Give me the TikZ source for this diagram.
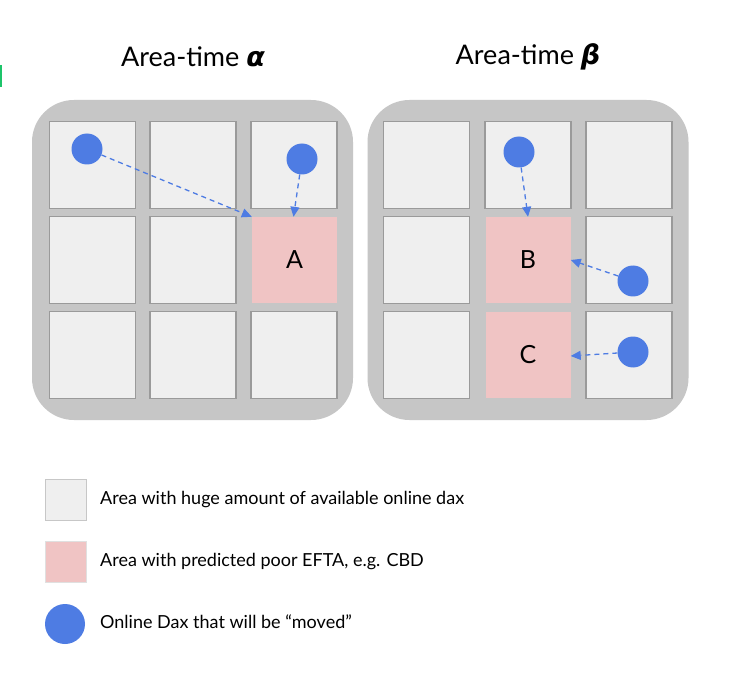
\documentclass[tikz,border=0pt]{standalone}
\usepackage{fontspec}
\setmainfont{Lato}
\newfontfamily\grk{DejaVu Sans}
\usetikzlibrary{arrows.meta}
\definecolor{panelgray}{HTML}{C6C6C6}
\definecolor{cellfill}{HTML}{EFEFEF}
\definecolor{celldraw}{HTML}{9A9A9A}
\definecolor{pinkfill}{HTML}{F0C4C4}
\definecolor{dotblue}{HTML}{4E7CE3}
\definecolor{markgreen}{HTML}{1DC46A}
\tikzset{
  panelbox/.style={fill=panelgray, rounded corners=42pt, minimum width=321pt, minimum height=320pt, inner sep=0pt},
  cellbox/.style={fill=cellfill, draw=celldraw, line width=1.4pt, minimum width=86pt, minimum height=87pt, inner sep=0pt},
  pinkbox/.style={fill=pinkfill, minimum width=85pt, minimum height=86pt, inner sep=0pt, font=\fontsize{25}{28}\selectfont},
  dot/.style={circle, fill=dotblue, minimum size=31pt, inner sep=0pt},
  move/.style={dotblue, dashed, dash pattern=on 5pt off 4pt, line width=1.3pt, -{Triangle[length=10pt,width=9pt]}},
  title/.style={font=\fontsize{27}{32}\selectfont},
  legtext/.style={anchor=west, font=\fontsize{18}{22}\selectfont, inner sep=0pt},
  legsq/.style={minimum size=41pt, inner sep=0pt, draw=black!22, line width=1.4pt}
}
\begin{document}
\begin{tikzpicture}[x=1pt,y=-1pt]
\useasboundingbox (0,0) rectangle (740,690);
\fill[white] (0,0) rectangle (740,690);
\fill[markgreen] (0,65) rectangle (2,87);
% titles
\node[title] (T1) at (193,57) {Area-time {\grk\bfseries\itshape α}};
\node[title] (T2) at (528,57) {Area-time {\grk\bfseries\itshape β}};
% panels
\node[panelbox] (P1) at (192.5,260) {};
\node[panelbox] (P2) at (528,260) {};
% left panel cells
\node[cellbox] (a11) at (92.5,165) {};
\node[cellbox] (a12) at (193,165) {};
\node[cellbox] (a13) at (294,165) {};
\node[cellbox] (a21) at (92.5,260) {};
\node[cellbox] (a22) at (193,260) {};
\node[pinkbox] (A) at (294.5,260) {A};
\node[cellbox] (a31) at (92.5,355) {};
\node[cellbox] (a32) at (193,355) {};
\node[cellbox] (a33) at (294,355) {};
% right panel cells
\node[cellbox] (b11) at (426.5,165) {};
\node[cellbox] (b12) at (528,165) {};
\node[cellbox] (b13) at (629,165) {};
\node[cellbox] (b21) at (426.5,260) {};
\node[pinkbox] (B) at (528,260) {B};
\node[cellbox] (b23) at (629,260) {};
\node[cellbox] (b31) at (426.5,355) {};
\node[pinkbox] (C) at (528,355) {C};
\node[cellbox] (b33) at (629,355) {};
% dots
\node[dot] (d1) at (87,149) {};
\node[dot] (d2) at (302,159) {};
\node[dot] (d3) at (519,152) {};
\node[dot] (d4) at (633,281) {};
\node[dot] (d5) at (633,352) {};
% moves
\draw[move] (d1) -- (A.north west);
\draw[move] (d2) -- ([xshift=-1pt]A.north);
\draw[move] (d3) -- (B.north);
\draw[move] (d4) -- (B.east);
\draw[move] (d5) -- ([yshift=-1pt]C.east);
% legend
\node[legsq, fill=cellfill] (L1) at (66,500) {};
\node[legsq, fill=pinkfill, draw=black!12] (L2) at (66,562) {};
\node[dot, minimum size=40pt] (L3) at (65,624) {};
\node[legtext] (t1) at (100,500) {Area with huge amount of available online dax};
\node[legtext] (t2) at (100,562) {Area with predicted poor EFTA, e.g. CBD};
\node[legtext] (t3) at (100,622) {Online Dax that will be “moved”};
\end{tikzpicture}
\end{document}
